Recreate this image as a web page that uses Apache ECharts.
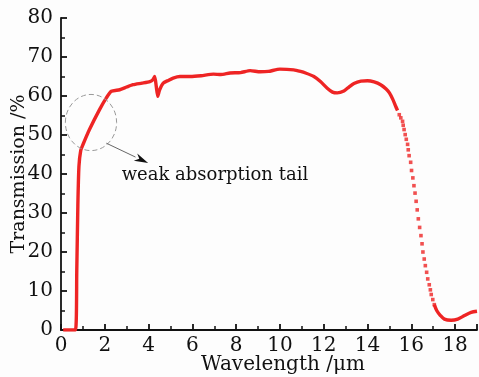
<!DOCTYPE html>
<html>
<head>
<meta charset="utf-8">
<script src="https://cdn.jsdelivr.net/npm/echarts@6/dist/echarts.min.js"></script>
<style>html,body{margin:0;padding:0;background:#fdfdfd;}#c{width:479px;height:377px;}</style>
</head>
<body>
<div id="c"></div>
<script>
// Solid part (UV to ~15.4 um)
const wl1 = [0.1,0.66,0.72,0.77,0.82,0.9,1.0,1.3,1.76,2.07,2.3,2.68,3.0,3.29,3.7,4.06,4.2,4.28,4.35,4.42,4.5,4.67,4.9,5.12,5.43,5.9,6.4,6.96,7.3,7.72,8.2,8.64,9.1,9.47,10.0,10.63,10.94,11.17,11.55,11.85,12.16,12.4,12.62,12.92,13.15,13.38,13.7,14.0,14.3,14.6,14.85,15.0,15.15,15.29,15.37];
const tr1 = [0,0,15,32,42,46,47.5,51.4,56.5,59.5,61.2,61.6,62.3,62.9,63.3,63.7,64.2,65.0,62.5,59.9,61.5,63.3,64.0,64.6,65.0,65.0,65.2,65.6,65.5,65.9,66.0,66.5,66.2,66.3,66.9,66.7,66.3,65.9,65.0,63.7,62.0,61.0,60.8,61.3,62.3,63.2,63.8,63.9,63.6,62.9,61.8,60.8,59.2,57.3,56.3];
// Sparse (dotted) part of the steep drop
const wlDots = [15.45,15.52,15.6,15.63,15.67,15.72,15.77,15.83,15.86,15.9,15.97,16.01,16.07,16.12,16.17,16.22,16.27,16.32,16.38,16.44,16.49,16.53,16.59,16.64,16.7,16.75,16.82,16.87,16.91,16.98,17.05];
const trDots = [55.2,54.4,53.5,52.5,51.4,50.1,48.9,47.6,46.2,44.7,43.0,40.9,39.0,37.0,35.1,33.0,30.8,28.5,26.3,24.2,22.1,20.0,18.2,16.5,14.8,13.1,11.6,10.3,9.1,7.8,6.5];
// Solid tail
const wl2 = [17.05,17.16,17.33,17.51,17.82,18.12,18.43,18.73,19.0];
const tr2 = [6.5,5.0,3.7,2.8,2.5,2.8,3.7,4.5,4.8];
// Annotation (data coordinates)
const noteText = 'weak absorption tail';
const ellipseCenter = [1.37, 53.2], ellipseRadius = [1.17, 7.2];
const arrowFrom = [2.07, 47.9], arrowTo = [3.98, 42.8];
const textPos = [2.77, 39.6];

const zip = (a, b) => a.map((v, i) => [v, b[i]]);
const red = '#ee2424';
const font = '"DejaVu Serif", "Liberation Serif", serif';
const chart = echarts.init(document.getElementById('c'), null, {renderer: 'canvas'});
const axisCommon = {
  axisLine: {show: true, lineStyle: {color: '#111', width: 1.8}},
  axisTick: {show: true, inside: true, length: 6, lineStyle: {color: '#111', width: 1.8}},
  minorTick: {show: true, splitNumber: 2, length: 4, lineStyle: {color: '#111', width: 1.5}},
  splitLine: {show: false},
  nameMoveOverlap: false,
  nameTextStyle: {fontFamily: font, fontSize: 19, color: '#111'},
  axisLabel: {fontFamily: font, fontSize: 20, color: '#111'}
};
chart.setOption({
  backgroundColor: '#fdfdfd',
  animation: false,
  grid: {left: 61, right: 2, top: 18, bottom: 47, containLabel: false, outerBoundsMode: 'none'},
  xAxis: Object.assign({}, axisCommon, {
    type: 'value', min: 0, max: 19, interval: 2,
    name: 'Wavelength /μm', nameLocation: 'middle', nameGap: 25,
    nameTextStyle: {fontFamily: font, fontSize: 20, color: '#111', padding: [0, 0, 0, 28]},
    axisLabel: Object.assign({}, axisCommon.axisLabel, {margin: 6, showMaxLabel: false})
  }),
  yAxis: Object.assign({}, axisCommon, {
    type: 'value', min: 0, max: 80, interval: 10,
    name: 'Transmission /%', nameLocation: 'middle', nameGap: 32,
    axisLabel: Object.assign({}, axisCommon.axisLabel, {margin: 8})
  }),
  series: [
    {type: 'line', data: zip(wl1, tr1), showSymbol: false, smooth: 0.2,
     lineStyle: {color: red, width: 3.4}},
    {type: 'scatter', data: zip(wlDots, trDots), symbol: 'rect', symbolSize: 3.6,
     itemStyle: {color: red}},
    {type: 'line', data: zip(wl2, tr2), showSymbol: false, smooth: 0.3,
     lineStyle: {color: red, width: 3.4}}
  ]
});

function px(p) { return chart.convertToPixel({gridIndex: 0}, p); }
const c0 = px(ellipseCenter);
const cR = px([ellipseCenter[0] + ellipseRadius[0], ellipseCenter[1] + ellipseRadius[1]]);
const a0 = px(arrowFrom), a1 = px(arrowTo);
const t0 = px(textPos);
const dx = a1[0] - a0[0], dy = a1[1] - a0[1], L = Math.hypot(dx, dy);
const ux = dx / L, uy = dy / L, nx = -uy, ny = ux;
const hl = 14, hw = 4;
const base = [a1[0] - ux * hl, a1[1] - uy * hl];
chart.setOption({
  graphic: [
    {type: 'ellipse', shape: {cx: c0[0], cy: c0[1], rx: cR[0] - c0[0], ry: c0[1] - cR[1]},
     style: {fill: 'none', stroke: '#999', lineWidth: 1, lineDash: [5, 3]}, z: 10},
    {type: 'line', shape: {x1: a0[0], y1: a0[1], x2: base[0], y2: base[1]},
     style: {stroke: '#555', lineWidth: 0.9}, z: 10},
    {type: 'polygon', shape: {points: [a1, [base[0] + nx * hw, base[1] + ny * hw], [a1[0] - ux * hl * 0.7, a1[1] - uy * hl * 0.7], [base[0] - nx * hw, base[1] - ny * hw]]},
     style: {fill: '#111'}, z: 10},
    {type: 'text', x: t0[0], y: t0[1],
     style: {text: noteText, fontFamily: font, fontSize: 18, fill: '#111', verticalAlign: 'middle', align: 'left'}, z: 10}
  ]
});
</script>
</body>
</html>
